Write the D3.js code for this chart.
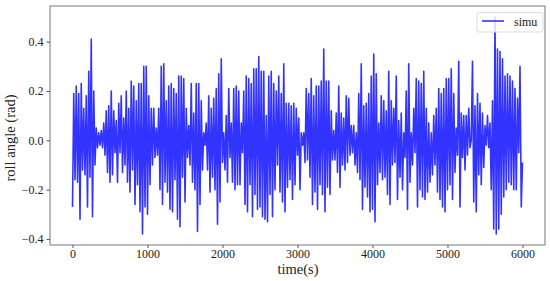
<!DOCTYPE html>
<html><head><meta charset="utf-8">
<script src="https://cdn.jsdelivr.net/npm/d3@7"></script>
<style>body{margin:0;background:#fff}svg{display:block}text{font-family:"Liberation Serif","Times New Roman",serif;fill:#222}</style>
</head><body><svg id="c" width="550" height="281"></svg>
<script>
const seriesName = "simu";
const xLabel = "time(s)";
const yLabel = "roll angle (rad)";
const xTicks = [0, 1000, 2000, 3000, 4000, 5000, 6000];
const yTicks = [-0.4, -0.2, 0.0, 0.2, 0.4];
const tStart = 0, tEnd = 6000;
const rollAngle = [
-0.27,0.19,-0.16,0.22,-0.17,0.19,-0.32,0.23,-0.12,0.13,-0.14,0.18,-0.27,0.28,-0.15,0.41,-0.31,0.20,-0.10,0.05,-0.03,0.03,-0.02,0.04,-0.03,0.07,-0.06,0.12,-0.13,0.14,
-0.17,0.20,-0.14,0.12,-0.05,0.08,-0.17,0.15,-0.05,0.18,-0.13,0.09,-0.10,0.20,-0.17,0.13,-0.21,0.24,-0.12,0.22,-0.26,0.16,-0.18,0.23,-0.29,0.23,-0.38,0.30,-0.27,0.30,
-0.30,0.18,-0.18,0.13,-0.10,0.13,-0.07,0.05,-0.06,0.13,-0.20,0.30,-0.26,0.31,-0.17,0.16,-0.21,0.22,-0.28,0.23,-0.29,0.21,-0.16,0.19,-0.32,0.26,-0.35,0.26,-0.15,0.25,
-0.25,0.13,-0.07,0.06,-0.10,0.23,-0.17,0.11,-0.20,0.23,-0.37,0.23,-0.26,0.16,-0.12,0.03,-0.02,0.07,-0.12,0.18,-0.21,0.13,-0.15,0.17,-0.20,0.21,-0.34,0.27,-0.25,0.33,
-0.09,0.03,-0.12,0.10,-0.17,0.21,-0.07,0.07,-0.17,0.21,-0.20,0.22,-0.18,0.20,-0.18,0.07,-0.05,0.20,-0.26,0.26,-0.29,0.25,-0.18,0.23,-0.31,0.29,-0.22,0.29,-0.28,0.34,
-0.27,0.28,-0.31,0.28,-0.32,0.10,-0.33,0.26,-0.22,0.28,-0.31,0.23,-0.20,0.20,-0.10,0.26,-0.21,0.19,-0.25,0.31,-0.29,0.15,-0.19,0.15,-0.16,0.14,-0.24,0.15,-0.18,0.13,
-0.06,0.09,-0.20,0.03,-0.02,0.03,-0.09,0.21,-0.08,0.19,-0.15,0.25,-0.26,0.18,-0.21,0.22,-0.28,0.22,-0.18,0.24,-0.22,0.37,-0.29,0.24,-0.19,0.24,-0.22,0.12,-0.08,0.04,
-0.08,0.11,-0.13,0.22,-0.19,0.11,-0.10,0.09,-0.12,0.18,-0.09,0.17,-0.06,0.06,-0.05,0.06,-0.10,0.03,-0.13,0.19,-0.16,0.31,-0.28,0.14,-0.19,0.15,-0.23,0.19,-0.29,0.26,
-0.28,0.35,-0.33,0.27,-0.18,0.07,-0.13,0.18,-0.16,0.16,-0.15,0.12,-0.22,0.28,-0.26,0.16,-0.10,0.13,-0.09,0.26,-0.24,0.08,-0.15,0.11,-0.20,0.03,-0.07,0.20,-0.28,0.31,
-0.17,0.03,-0.10,0.13,-0.05,0.25,-0.27,0.24,-0.20,0.23,-0.23,0.28,-0.24,0.13,-0.21,0.07,-0.17,0.03,-0.14,0.10,-0.10,0.13,-0.21,0.21,-0.24,0.19,-0.27,0.21,-0.29,0.25,
-0.20,0.25,-0.18,0.29,-0.24,0.19,-0.13,0.05,-0.06,0.32,-0.27,0.11,-0.07,0.10,-0.12,0.10,-0.06,0.13,-0.03,0.00,0.32,-0.25,0.14,-0.29,0.19,-0.14,0.15,-0.18,0.11,-0.11,
0.06,-0.02,0.10,-0.03,0.07,-0.20,0.16,-0.36,0.50,-0.38,0.37,-0.36,0.36,-0.30,0.33,-0.23,0.26,-0.20,0.27,-0.17,0.26,-0.18,0.24,-0.20,0.21,-0.20,0.17,-0.05,0.30,-0.27,
-0.09
];

const W = 550, H = 281;
const m = {left: 50, right: 545, top: 6, bottom: 245};
const step = (tEnd - tStart) / (rollAngle.length - 1);
const data = rollAngle.map((v, i) => ({t: tStart + i * step, v}));

const x = d3.scaleLinear().domain([-300, 6300]).range([m.left, m.right]);
const y = d3.scaleLinear().domain([-0.4245, 0.5445]).range([m.bottom, m.top]);

const svg = d3.select("#c");

svg.append("path")
  .datum(data)
  .attr("fill", "none")
  .attr("stroke", "#0000ff")
  .attr("stroke-opacity", 0.8)
  .attr("stroke-width", 1.6)
  .attr("stroke-linejoin", "round")
  .attr("d", d3.line().x(d => x(d.t)).y(d => y(d.v)));

// frame
svg.append("rect")
  .attr("x", m.left).attr("y", m.top)
  .attr("width", m.right - m.left).attr("height", m.bottom - m.top)
  .attr("fill", "none").attr("stroke", "#777").attr("stroke-width", 1);

const fmt = d3.format(".1f");
const gx = svg.append("g").attr("transform", `translate(0,${m.bottom})`)
  .call(d3.axisBottom(x).tickValues(xTicks).tickSize(3).tickPadding(1.5).tickFormat(d3.format("d")));
const gy = svg.append("g").attr("transform", `translate(${m.left},0)`)
  .call(d3.axisLeft(y).tickValues(yTicks).tickSize(3.5).tickPadding(3).tickFormat(fmt));
[gx, gy].forEach(g => {
  g.select(".domain").remove();
  g.selectAll(".tick line").attr("stroke", "#555");
  g.selectAll(".tick text").attr("font-family", '"Liberation Serif", serif').attr("font-size", 12).attr("fill", "#222");
});

svg.append("text").attr("x", 298).attr("y", 268.5).attr("dy", "0.35em")
  .attr("text-anchor", "middle").attr("font-size", 14.5).text(xLabel);
svg.append("text").attr("transform", "translate(9.5,138) rotate(-90)").attr("dy", "0.35em")
  .attr("text-anchor", "middle").attr("font-size", 14.5).text(yLabel);

// legend
const lg = svg.append("g");
lg.append("rect").attr("x", 477).attr("y", 12.5).attr("width", 66).attr("height", 19.5).attr("rx", 2)
  .attr("fill", "#fff").attr("fill-opacity", 0.8).attr("stroke", "#ddd");
lg.append("line").attr("x1", 482).attr("x2", 504).attr("y1", 21).attr("y2", 21)
  .attr("stroke", "#0000ff").attr("stroke-opacity", 0.8).attr("stroke-width", 1.6);
lg.append("text").attr("x", 514).attr("y", 21.5).attr("dy", "0.35em").attr("font-size", 12).text(seriesName);
</script></body></html>
